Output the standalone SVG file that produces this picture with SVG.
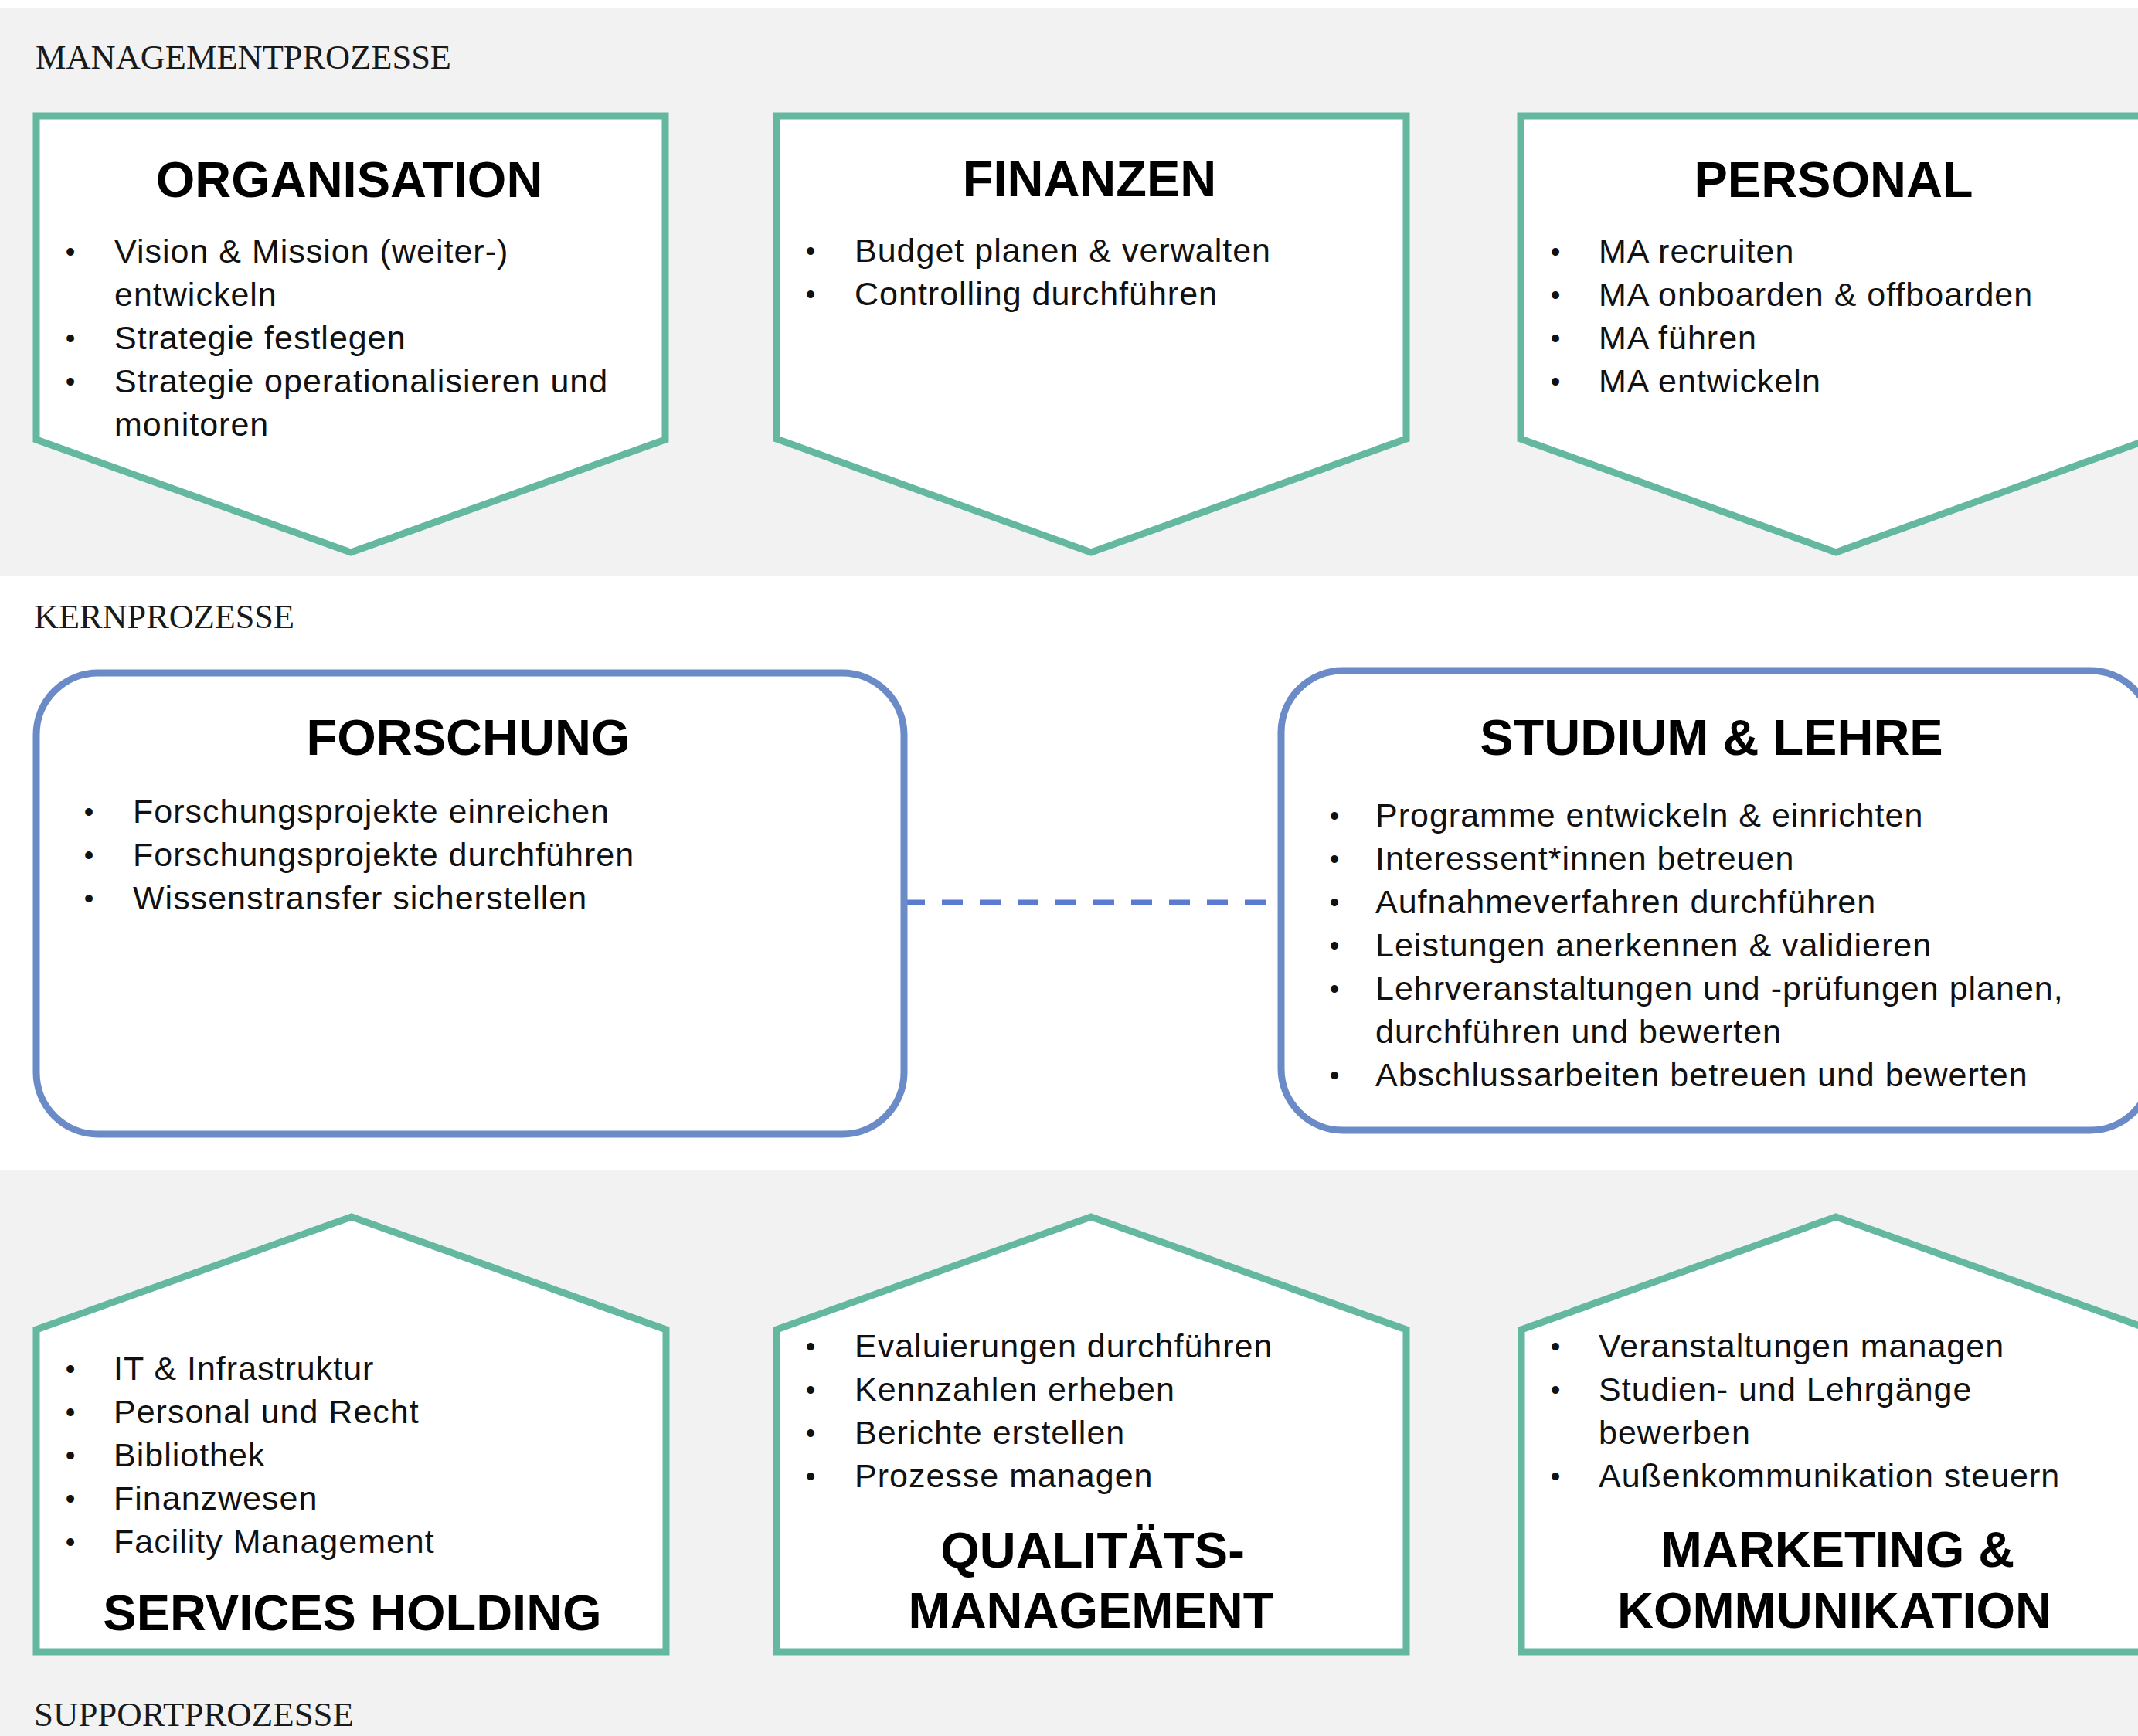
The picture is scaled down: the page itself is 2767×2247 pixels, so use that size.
<svg xmlns="http://www.w3.org/2000/svg" width="2767" height="2247" viewBox="0 0 2767 2247">
<style>
.bg{fill:#f2f2f2}
.sec{font-family:"Liberation Serif","Times New Roman",serif;font-size:45px;fill:#1a1a1a}
.chev{fill:#ffffff;stroke:#64b89f;stroke-width:9;stroke-linejoin:miter}
.core{fill:#ffffff;stroke:#6a8bc8;stroke-width:9}
.title{font-family:"Liberation Sans",Arial,sans-serif;font-weight:bold;font-size:65px;text-anchor:middle;fill:#000}
.item{font-family:"Liberation Sans",Arial,sans-serif;font-size:43px;letter-spacing:1px;fill:#111}
.bul{font-family:"Liberation Sans",Arial,sans-serif;font-size:36px;text-anchor:middle;fill:#111}
.conn{stroke:#5b7bd3;stroke-width:7;stroke-dasharray:27 22;fill:none}
</style>
<rect x="0" y="0" width="2767" height="2247" fill="#ffffff"/>
<rect class="bg" x="0" y="10" width="2767" height="736"/>
<rect class="bg" x="0" y="1514" width="2767" height="733"/>

<text class="sec" x="46" y="89" textLength="538" lengthAdjust="spacingAndGlyphs">MANAGEMENTPROZESSE</text>
<text class="sec" x="44" y="813" textLength="337" lengthAdjust="spacingAndGlyphs">KERNPROZESSE</text>
<text class="sec" x="44" y="2234" textLength="414" lengthAdjust="spacingAndGlyphs">SUPPORTPROZESSE</text>

<g id="connectors">
<line class="conn" x1="1170" y1="1168" x2="1638" y2="1168"/>
</g>

<g id="organisation">
<polygon class="chev" points="47,150 861,150 861,569 454,715 47,569"/>
<text class="title" x="452" y="255">ORGANISATION</text>
<text class="bul" x="91" y="338">•</text>
<text class="item" x="148" y="340">Vision &amp; Mission (weiter-)</text>
<text class="item" x="148" y="396">entwickeln</text>
<text class="bul" x="91" y="450">•</text>
<text class="item" x="148" y="452">Strategie festlegen</text>
<text class="bul" x="91" y="506">•</text>
<text class="item" x="148" y="508">Strategie operationalisieren und</text>
<text class="item" x="148" y="564">monitoren</text>
</g>

<g id="finanzen">
<polygon class="chev" points="1005,150 1820,150 1820,568 1412,715 1005,568"/>
<text class="title" x="1410" y="254">FINANZEN</text>
<text class="bul" x="1049" y="337">•</text>
<text class="item" x="1106" y="339">Budget planen &amp; verwalten</text>
<text class="bul" x="1049" y="393">•</text>
<text class="item" x="1106" y="395">Controlling durchführen</text>
</g>

<g id="personal">
<polygon class="chev" points="1968,150 2783,150 2783,568 2376,715 1968,568"/>
<text class="title" x="2373" y="255">PERSONAL</text>
<text class="bul" x="2013" y="338">•</text>
<text class="item" x="2069" y="340">MA recruiten</text>
<text class="bul" x="2013" y="394">•</text>
<text class="item" x="2069" y="396">MA onboarden &amp; offboarden</text>
<text class="bul" x="2013" y="450">•</text>
<text class="item" x="2069" y="452">MA führen</text>
<text class="bul" x="2013" y="506">•</text>
<text class="item" x="2069" y="508">MA entwickeln</text>
</g>

<g id="forschung">
<rect class="core" x="47" y="871" width="1123" height="597" rx="80" ry="80"/>
<text class="title" x="606" y="977">FORSCHUNG</text>
<text class="bul" x="115" y="1063">•</text>
<text class="item" x="172" y="1065">Forschungsprojekte einreichen</text>
<text class="bul" x="115" y="1119">•</text>
<text class="item" x="172" y="1121">Forschungsprojekte durchführen</text>
<text class="bul" x="115" y="1175">•</text>
<text class="item" x="172" y="1177">Wissenstransfer sicherstellen</text>
</g>

<g id="studium-lehre">
<rect class="core" x="1658" y="868" width="1127" height="595" rx="80" ry="80"/>
<text class="title" x="2215" y="977">STUDIUM &amp; LEHRE</text>
<text class="bul" x="1727" y="1068">•</text>
<text class="item" x="1780" y="1070">Programme entwickeln &amp; einrichten</text>
<text class="bul" x="1727" y="1124">•</text>
<text class="item" x="1780" y="1126">Interessent*innen betreuen</text>
<text class="bul" x="1727" y="1180">•</text>
<text class="item" x="1780" y="1182">Aufnahmeverfahren durchführen</text>
<text class="bul" x="1727" y="1236">•</text>
<text class="item" x="1780" y="1238">Leistungen anerkennen &amp; validieren</text>
<text class="bul" x="1727" y="1292">•</text>
<text class="item" x="1780" y="1294">Lehrveranstaltungen und -prüfungen planen,</text>
<text class="item" x="1780" y="1350">durchführen und bewerten</text>
<text class="bul" x="1727" y="1404">•</text>
<text class="item" x="1780" y="1406">Abschlussarbeiten betreuen und bewerten</text>
</g>

<g id="services-holding">
<polygon class="chev" points="47,2138 47,1721 455,1575 862,1721 862,2138"/>
<text class="bul" x="91" y="1784">•</text>
<text class="item" x="147" y="1786">IT &amp; Infrastruktur</text>
<text class="bul" x="91" y="1840">•</text>
<text class="item" x="147" y="1842">Personal und Recht</text>
<text class="bul" x="91" y="1896">•</text>
<text class="item" x="147" y="1898">Bibliothek</text>
<text class="bul" x="91" y="1952">•</text>
<text class="item" x="147" y="1954">Finanzwesen</text>
<text class="bul" x="91" y="2008">•</text>
<text class="item" x="147" y="2010">Facility Management</text>
<text class="title" x="456" y="2110">SERVICES HOLDING</text>
</g>

<g id="qualitaetsmanagement">
<polygon class="chev" points="1005,2138 1005,1721 1412,1575 1820,1721 1820,2138"/>
<text class="bul" x="1049" y="1755">•</text>
<text class="item" x="1106" y="1757">Evaluierungen durchführen</text>
<text class="bul" x="1049" y="1811">•</text>
<text class="item" x="1106" y="1813">Kennzahlen erheben</text>
<text class="bul" x="1049" y="1867">•</text>
<text class="item" x="1106" y="1869">Berichte erstellen</text>
<text class="bul" x="1049" y="1923">•</text>
<text class="item" x="1106" y="1925">Prozesse managen</text>
<text class="title" x="1414" y="2029">QUALITÄTS-</text>
<text class="title" x="1412" y="2107">MANAGEMENT</text>
</g>

<g id="marketing-kommunikation">
<polygon class="chev" points="1969,2138 1969,1721 2376,1575 2783,1721 2783,2138"/>
<text class="bul" x="2013" y="1755">•</text>
<text class="item" x="2069" y="1757">Veranstaltungen managen</text>
<text class="bul" x="2013" y="1811">•</text>
<text class="item" x="2069" y="1813">Studien- und Lehrgänge</text>
<text class="item" x="2069" y="1869">bewerben</text>
<text class="bul" x="2013" y="1923">•</text>
<text class="item" x="2069" y="1925">Außenkommunikation steuern</text>
<text class="title" x="2378" y="2028">MARKETING &amp;</text>
<text class="title" x="2374" y="2107">KOMMUNIKATION</text>
</g>
</svg>
